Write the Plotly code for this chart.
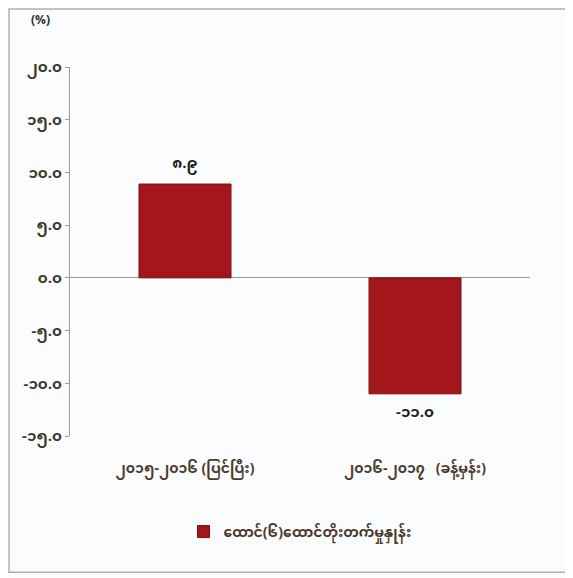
import plotly.graph_objects as go

categories = ["၂၀၁၅-၂၀၁၆ (ပြင်ပြီး)", "၂၀၁၆-၂၀၁၇   (ခန့်မှန်း)"]
values = [8.9, -11.0]
value_labels = ["၈.၉", "-၁၁.၀"]
series_name = "ထောင်(၆)ထောင်တိုးတက်မှုနှုန်း"
y_tickvals = [20, 15, 10, 5, 0, -5, -10, -15]
y_ticktext = ["၂၀.၀", "၁၅.၀", "၁၀.၀", "၅.၀", "၀.၀", "-၅.၀", "-၁၀.၀", "-၁၅.၀"]
y_unit = "(%)"

text_color = "#4a3b2c"
font_family = "Noto Sans Myanmar, Padauk, Myanmar Text, Noto Sans, DejaVu Sans, sans-serif"

fig = go.Figure()
fig.add_trace(go.Bar(
    x=categories, y=values, name=series_name,
    width=0.4,
    marker=dict(color="#a3161b", line=dict(color="#7e1014", width=1)),
    text=["<b>%s</b>" % t for t in value_labels], textposition="outside",
    textfont=dict(color="#1e1e1e", size=15, family=font_family),
    cliponaxis=False,
))

fig.update_layout(
    width=565, height=570,
    margin=dict(l=62, r=43, t=59, b=142),
    paper_bgcolor="#fbfcfe", plot_bgcolor="#fbfcfe",
    font=dict(family=font_family, color=text_color, size=12),
    showlegend=True,
    legend=dict(orientation="h", x=0.5, xanchor="center", y=-0.26, yanchor="middle",
                font=dict(size=14, color=text_color, weight="bold")),
    bargap=0.6,
)
fig.update_yaxes(
    range=[-15, 20], tickvals=y_tickvals, ticktext=y_ticktext,
    showgrid=False, zeroline=True, zerolinecolor="#9a9a9a", zerolinewidth=1,
    showline=True, linecolor="#9a9a9a", linewidth=1,
    ticks="outside", ticklen=4, tickcolor="#9a9a9a",
    tickfont=dict(size=15, color="#3a3a28", weight="bold"),
)
fig.update_xaxes(
    showgrid=False, showline=False, ticks="",
    ticklabelstandoff=22,
    tickfont=dict(size=14, color=text_color, weight="bold"),
)
fig.add_annotation(text="<b>%s</b>" % y_unit, xref="paper", yref="paper", x=-0.065, y=1.125,
                   yanchor="middle", showarrow=False,
                   font=dict(size=12, color="#2e2e2e"), xanchor="center")
fig.add_shape(type="rect", xref="paper", yref="paper",
              x0=-0.1326, x1=1.085, y0=-0.369, y1=1.157,
              line=dict(color="#b0b0b0", width=1.5))
fig.write_html("out.html")
